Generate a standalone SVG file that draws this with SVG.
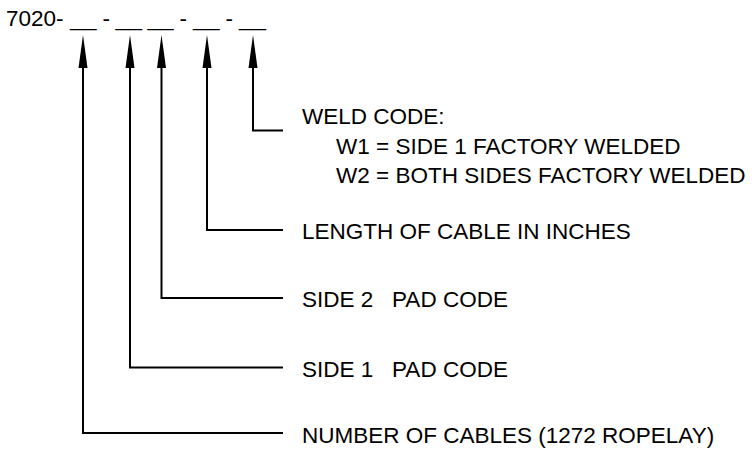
<svg xmlns="http://www.w3.org/2000/svg" width="752" height="450" viewBox="0 0 752 450">
<style>
text { font-family: "Liberation Sans", Arial, sans-serif; font-size: 22.5px; fill: #000; white-space: pre; }
.ln { fill: none; stroke: #000; stroke-width: 2; }
.ah { fill: #000; stroke: none; }
</style>
<defs>
<polygon id="head" class="ah" points="0,35 -4.5,68 4.5,68"/>
</defs>
<rect width="752" height="450" fill="#fff"/>
<g id="part-number">
<text x="6" y="26">7020-</text>
<text x="70" y="26" textLength="26.5" lengthAdjust="spacingAndGlyphs">__</text>
<text x="102.5" y="26">-</text>
<text x="115.5" y="26" textLength="26.5" lengthAdjust="spacingAndGlyphs">__</text>
<text x="147.5" y="26" textLength="26" lengthAdjust="spacingAndGlyphs">__</text>
<text x="179.5" y="26">-</text>
<text x="193" y="26" textLength="26.5" lengthAdjust="spacingAndGlyphs">__</text>
<text x="225.5" y="26">-</text>
<text x="239" y="26" textLength="27" lengthAdjust="spacingAndGlyphs">__</text>
</g>
<g id="connectors">
<use href="#head" x="83"/>
<use href="#head" x="130"/>
<use href="#head" x="161.5"/>
<use href="#head" x="207"/>
<use href="#head" x="253"/>
<polyline class="ln" points="83,66 83,433 283,433"/>
<polyline class="ln" points="130,66 130,367.5 283,367.5"/>
<polyline class="ln" points="161.5,66 161.5,298 283,298"/>
<polyline class="ln" points="207,66 207,230 283,230"/>
<polyline class="ln" points="253,66 253,130.5 283,130.5"/>
</g>
<g id="weld-code">
<text x="302" y="123.5">WELD CODE:</text>
<text x="336" y="153.5">W1 = SIDE 1 FACTORY WELDED</text>
<text x="336" y="182.5">W2 = BOTH SIDES FACTORY WELDED</text>
</g>
<g id="length">
<text x="302" y="238.5">LENGTH OF CABLE IN INCHES</text>
</g>
<g id="side2">
<text x="302" y="307">SIDE 2   PAD CODE</text>
</g>
<g id="side1">
<text x="302" y="376.5">SIDE 1   PAD CODE</text>
</g>
<g id="number">
<text x="302" y="442.5">NUMBER OF CABLES (1272 ROPELAY)</text>
</g>
</svg>
